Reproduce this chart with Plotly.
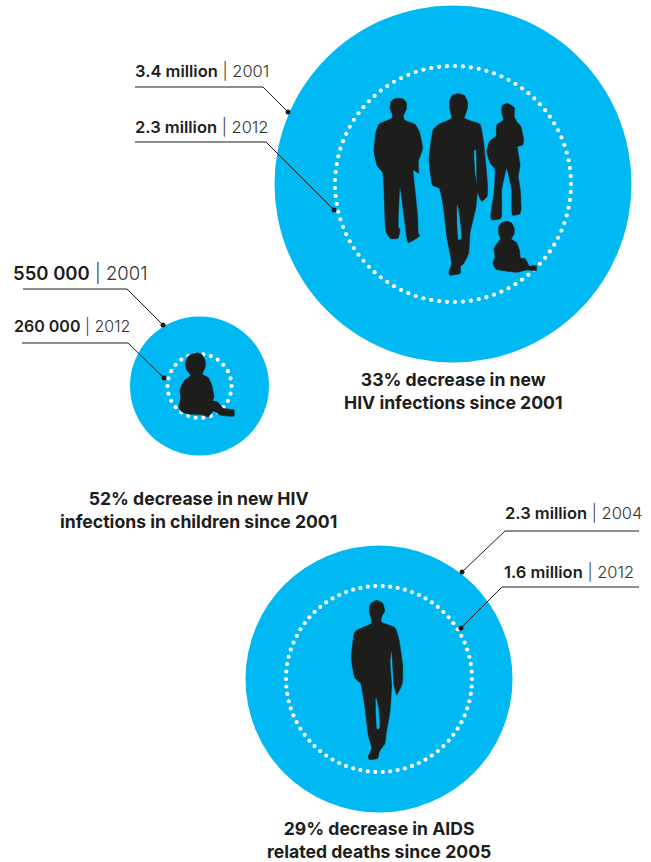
import numpy as np
import plotly.graph_objects as go

# ---- data: figures quoted in the graphic
panel_values = ["3.4 million", "2.3 million", "550 000", "260 000", "2.3 million", "1.6 million"]
panel_years = ["2001", "2012", "2001", "2012", "2004", "2012"]
headlines = [
    "33% decrease in new<br>HIV infections since 2001",
    "52% decrease in new HIV<br>infections in children since 2001",
    "29% decrease in AIDS<br>related deaths since 2005",
]

# ---- geometry (pixels)
circle_cx = [453, 199.5, 379]
circle_cy = [184, 386, 679]
outer_diameter = [357, 139, 267]
ring_radius = [118, 32, 93]
ring_dots = [93, 26, 78]
headline_x = [453, 198, 379]
headline_y = [391, 510, 840]

label_x = [133, 133, 11, 11.5, 503, 502]
label_y = [71, 127, 273, 326, 512.5, 571.5]
label_size = [16.5, 16.5, 18.5, 16.0, 16.5, 16.5]
leader_x = [[135, 263, 288], [135, 266, 334], [23, 127, 163], [22, 128, 164], [639, 505, 462], [639, 502, 461]]
leader_y = [[87, 87, 112], [142, 142, 210], [289, 289, 325], [343, 343, 378], [531, 531, 572], [587, 587, 628]]

CYAN = "#00B9F2"
INK = "#1D1D1B"


def zoomed(points, ox, oy):
    return [ox + p[0] / 3 for p in points] + [None], [oy + p[1] / 3 for p in points] + [None]


man_left = [(85,25),(100,27),(109,38),(109,58),(100,78),(103,90),(135,103),(148,125),(158,175),(145,215),(146,250),(130,240),
            (135,300),(143,380),(145,432),(150,437),(115,458),(110,440),(105,400),(90,290),(85,410),(90,420),(84,445),(62,446),
            (48,425),(42,300),(38,248),(22,228),(12,185),(18,125),(28,102),(65,85),(68,75),(60,55),(63,35),(72,27)]
man_mid = [(265,11),(283,16),(293,38),(291,60),(283,85),(330,103),(340,150),(353,290),(351,320),(335,334),(322,305),(318,180),
           (312,180),(315,250),(322,300),(318,350),(300,430),(296,490),(280,522),(271,530),(271,550),(240,556),(237,545),(245,520),
           (232,450),(220,350),(208,295),(188,286),(177,210),(190,118),(205,104),(245,85),(240,60),(239,32),(248,15)]
woman = [(412,40),(433,53),(433,80),(440,95),(452,108),(461,150),(458,165),(443,170),(450,225),(445,260),(451,300),(453,360),
         (449,372),(428,376),(425,360),(425,300),(410,235),(395,300),(393,385),(365,390),(362,380),(372,310),(375,237),(360,218),
         (350,185),(358,155),(378,138),(380,105),(400,90),(395,65),(397,47)]
baby_big = [(408,394),(424,398),(433,415),(432,432),(424,447),(440,458),(448,480),(452,505),(465,505),(478,528),(499,527),
            (499,542),(470,540),(440,547),(400,542),(378,538),(369,520),(375,500),(372,475),(385,455),(392,447),(386,432),
            (386,410),(395,398)]
baby_small = [(590,293),(605,298),(615,315),(616,335),(607,358),(625,368),(635,390),(642,425),(638,437),(652,440),(670,460),
              (702,465),(702,483),(662,481),(640,468),(625,486),(610,480),(570,478),(545,470),(536,455),(542,430),(540,405),
              (552,378),(572,361),(560,345),(556,325),(565,303)]
man_solo = [(110,16),(128,25),(134,48),(125,65),(123,80),(165,98),(176,130),(188,210),(187,265),(170,300),(162,270),(155,165),
            (150,200),(155,270),(150,350),(138,420),(135,445),(118,470),(113,490),(88,494),(85,485),(95,460),(85,420),(75,340),
            (62,265),(45,250),(34,190),(45,110),(95,85),(92,65),(87,45),(92,26)]
# gaps between the legs, painted in the disc colour
gap_mid = [(262,347),(268,380),(273,445),(266,450),(262,400)]
gap_solo = [(108,310),(115,340),(118,400),(112,402),(108,350)]

fig = go.Figure()

# outer discs
fig.add_trace(go.Scatter(x=circle_cx, y=circle_cy, mode="markers", hoverinfo="skip",
                         marker=dict(size=outer_diameter, sizemode="diameter", color=CYAN, opacity=1, line=dict(width=0))))

# dotted rings
for cx, cy, r, n in zip(circle_cx, circle_cy, ring_radius, ring_dots):
    t = np.linspace(0, 2 * np.pi, n, endpoint=False)
    fig.add_trace(go.Scatter(x=cx + r * np.cos(t), y=cy + r * np.sin(t), mode="markers", hoverinfo="skip",
                             marker=dict(size=4.2, color="white", line=dict(width=0))))

# silhouettes
for pts, ox, oy, col in [(man_left, 370, 90, INK), (man_mid, 370, 90, INK), (woman, 370, 90, INK), (baby_big, 370, 90, INK),
                         (baby_small, 0, 255, INK), (man_solo, 340, 595, INK),
                         (gap_mid, 370, 90, CYAN), (gap_solo, 340, 595, CYAN)]:
    xs, ys = zoomed(pts, ox, oy)
    xs[-1] = xs[0]
    ys[-1] = ys[0]
    fig.add_trace(go.Scatter(x=xs, y=ys, mode="lines", fill="toself", fillcolor=col, hoverinfo="skip",
                             line=dict(color=col, width=0.5, shape="spline", smoothing=0.4)))

# leader lines and their end dots
for xs, ys in zip(leader_x, leader_y):
    fig.add_trace(go.Scatter(x=xs, y=ys, mode="lines", hoverinfo="skip", line=dict(color=INK, width=1)))
    fig.add_trace(go.Scatter(x=[xs[-1]], y=[ys[-1]], mode="markers", hoverinfo="skip",
                             marker=dict(size=5, color=INK, line=dict(width=0))))

annotations = []
for v, yr, x, y, s in zip(panel_values, panel_years, label_x, label_y, label_size):
    annotations.append(dict(x=x, y=y, xref="x", yref="y", xanchor="left", yanchor="middle", showarrow=False,
                            text=f"<span style='font-weight:600'>{v}</span> <span style='font-weight:300;color:#333'>| {yr}</span>",
                            font=dict(family="Inter", size=s, color=INK)))
for t, x, y in zip(headlines, headline_x, headline_y):
    annotations.append(dict(x=x, y=y, xref="x", yref="y", xanchor="center", yanchor="middle", showarrow=False,
                            align="center", text=t, font=dict(family="Inter", size=17.6, color=INK, weight=700)))

fig.update_layout(width=651, height=862, margin=dict(l=0, r=0, t=0, b=0), showlegend=False,
                  paper_bgcolor="white", plot_bgcolor="white", annotations=annotations,
                  xaxis=dict(range=[0, 651], visible=False, fixedrange=True),
                  yaxis=dict(range=[862, 0], visible=False, fixedrange=True))

fig.write_html("out.html", config={"displayModeBar": False},
               post_script="document.body.style.margin='0';document.body.style.overflow='hidden';")
